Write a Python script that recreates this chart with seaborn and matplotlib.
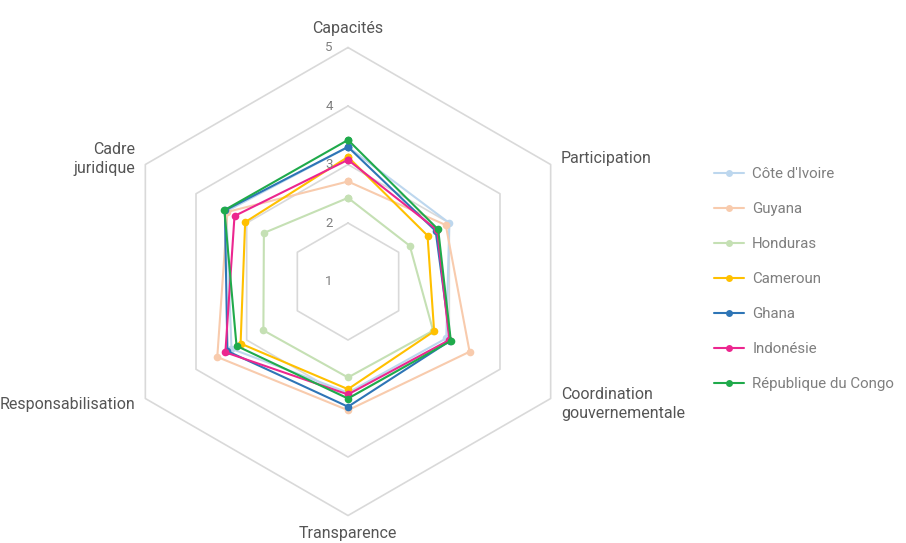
import numpy as np
import pandas as pd
import matplotlib
matplotlib.use("Agg")
import matplotlib.pyplot as plt
from matplotlib.lines import Line2D
import seaborn as sns

# axes of the radar, clockwise from the top
categories = ["Capacités", "Participation", "Coordination\ngouvernementale",
              "Transparence", "Responsabilisation", "Cadre\njuridique"]
countries = ["Côte d'Ivoire", "Guyana", "Honduras", "Cameroun",
             "Ghana", "Indonésie", "République du Congo"]

cote_ivoire = [3.30, 3.00, 2.94, 2.90, 3.30, 3.40]
guyana = [2.71, 2.93, 3.40, 3.20, 3.58, 3.38]
honduras = [2.43, 2.22, 2.68, 2.64, 2.67, 2.66]
cameroun = [3.13, 2.57, 2.70, 2.84, 3.12, 3.03]
ghana = [3.30, 2.73, 3.02, 3.14, 3.38, 3.43]
indonesie = [3.08, 2.76, 3.00, 2.93, 3.42, 3.24]
congo = [3.42, 2.78, 3.03, 3.00, 3.20, 3.44]

scores = [cote_ivoire, guyana, honduras, cameroun, ghana, indonesie, congo]
colors = ["#bdd7ee", "#f8cbad", "#c5e0b4", "#ffc000", "#2e75b6", "#ec268f", "#1faa4b"]
levels = [2, 3, 4, 5]
tick_labels = ["1", "2", "3", "4", "5"]

sns.set_theme(style="white")
plt.rcParams["font.family"] = ["Roboto", "DejaVu Sans"]

n = len(categories)
theta = np.arange(n) * 2 * np.pi / n
theta_closed = np.append(theta, 2 * np.pi)

rows = []
for name, vals in zip(countries, scores):
    for t, v in zip(theta_closed, vals + vals[:1]):
        rows.append({"pays": name, "theta": t, "score": v})
df = pd.DataFrame(rows)
palette = dict(zip(countries, colors))

fig = plt.figure(figsize=(9.06, 5.43), dpi=100)
ax = fig.add_axes([0.1258, 0.0506, 0.5166, 0.8619], projection="polar")
ax.set_theta_offset(np.pi / 2)
ax.set_theta_direction(-1)
ax.set_ylim(1, 5)
ax.grid(False)
ax.spines["polar"].set_visible(False)
ax.set_xticks([])
ax.set_yticks([])

# hexagonal grid
for lvl in levels:
    ax.plot(theta_closed, [lvl] * (n + 1), color="#d9d9d9", lw=1.2, zorder=1, clip_on=False)

sns.lineplot(data=df, x="theta", y="score", hue="pays", hue_order=countries,
             palette=palette, sort=False, estimator=None, marker="o",
             markersize=5.5, markeredgewidth=0, linewidth=1.5, legend=False,
             ax=ax, zorder=3, clip_on=False)
ax.set_xlabel("")
ax.set_ylabel("")

# radial tick labels
for i, lab in enumerate(tick_labels):
    ax.annotate(lab, xy=(0, i + 1), xytext=(-11, 0), textcoords="offset points",
                ha="right", va="center", fontsize=9.5, color="#808080",
                annotation_clip=False)

# category labels
label_pos = [(5.33, "center", "center"), (5.2, "left", "center"), (5.2, "left", "center"),
             (5.3, "center", "center"), (5.2, "right", "center"), (5.2, "right", "center")]
for t, lab, (r, ha, va) in zip(theta, categories, label_pos):
    ax.text(t, r, lab, ha=ha, va=va, fontsize=11.5, color="#555555", linespacing=1.35)

handles = [Line2D([0], [0], color=c, lw=1.5, marker="o", markersize=5, markeredgewidth=0)
           for c in colors]
fig.legend(handles, countries, loc="upper left", bbox_to_anchor=(0.788, 0.692),
           frameon=False, fontsize=10.8, labelcolor="#7f7f7f", handlelength=2.0,
           handletextpad=0.55, labelspacing=1.4, borderpad=0, borderaxespad=0)

fig.savefig("out.png", dpi=100)
